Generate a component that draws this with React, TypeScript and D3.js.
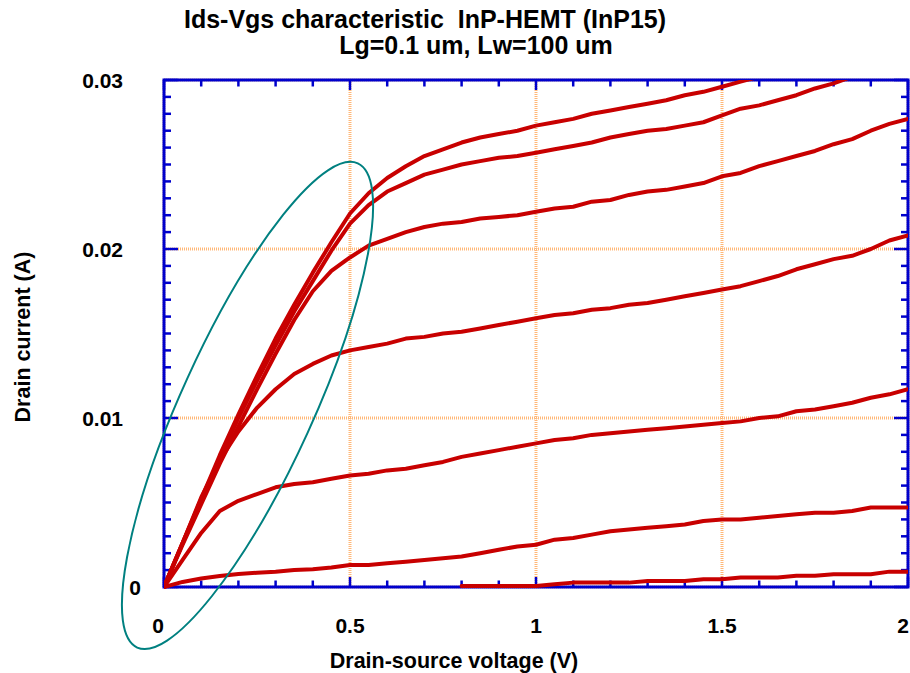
import React from "react";
import * as d3 from "d3";

const TITLE1 = "Ids-Vgs characteristic  InP-HEMT (InP15)";
const TITLE2 = "Lg=0.1 um, Lw=100 um";
const X_LABEL = "Drain-source voltage (V)";
const Y_LABEL = "Drain current (A)";

const X_TICKS = [0, 0.5, 1, 1.5, 2];
const X_TICK_LABELS = ["0", "0.5", "1", "1.5", "2"];
const Y_TICKS = [0, 0.01, 0.02, 0.03];
const Y_TICK_LABELS = ["0", "0.01", "0.02", "0.03"];

// Drain-source voltage samples (V)
const VDS = [
  0, 0.05, 0.1, 0.15, 0.2, 0.25, 0.3, 0.35, 0.4, 0.45, 0.5, 0.55, 0.6, 0.65, 0.7, 0.75, 0.8, 0.85, 0.9, 0.95,
  1.0, 1.05, 1.1, 1.15, 1.2, 1.25, 1.3, 1.35, 1.4, 1.45, 1.5, 1.55, 1.6, 1.65, 1.7, 1.75, 1.8, 1.85, 1.9, 1.95, 2.0,
];

// Drain current (A), one array per gate bias, top to bottom
const ID_1 = [0, 0.0026, 0.0052, 0.0078, 0.0102, 0.0125, 0.0147, 0.0167, 0.0186, 0.0204, 0.0221, 0.0233, 0.0242, 0.0249, 0.0255, 0.0259, 0.0263, 0.0266, 0.0268, 0.027, 0.0273, 0.0275, 0.0277, 0.028, 0.0282, 0.0284, 0.0286, 0.0288, 0.0291, 0.0293, 0.0296, 0.0299, 0.0302];
const ID_2 = [0, 0.0026, 0.0051, 0.0076, 0.01, 0.0122, 0.0143, 0.0163, 0.0181, 0.0199, 0.0215, 0.0226, 0.0234, 0.0239, 0.0244, 0.0247, 0.025, 0.0252, 0.0254, 0.0255, 0.0257, 0.0259, 0.0261, 0.0263, 0.0266, 0.0268, 0.027, 0.0271, 0.0273, 0.0275, 0.0279, 0.0283, 0.0285, 0.0288, 0.0291, 0.0295, 0.0298, 0.0302];
const ID_3 = [0, 0.0025, 0.0049, 0.0073, 0.0095, 0.0117, 0.0138, 0.0158, 0.0175, 0.0187, 0.0195, 0.0202, 0.0206, 0.021, 0.0213, 0.0215, 0.0216, 0.0218, 0.0219, 0.022, 0.0222, 0.0224, 0.0225, 0.0228, 0.0229, 0.0232, 0.0234, 0.0235, 0.0237, 0.0239, 0.0243, 0.0245, 0.0249, 0.0252, 0.0255, 0.0258, 0.0262, 0.0265, 0.027, 0.0274, 0.0277];
const ID_4 = [0, 0.0026, 0.0053, 0.0075, 0.0092, 0.0106, 0.0117, 0.0126, 0.0132, 0.0137, 0.014, 0.0142, 0.0144, 0.0147, 0.0148, 0.015, 0.0151, 0.0153, 0.0155, 0.0157, 0.0159, 0.0161, 0.0162, 0.0164, 0.0165, 0.0167, 0.0168, 0.017, 0.0172, 0.0174, 0.0176, 0.0178, 0.0181, 0.0184, 0.0188, 0.0191, 0.0194, 0.0196, 0.02, 0.0205, 0.0208];
const ID_5 = [0, 0.0016, 0.0032, 0.0045, 0.0051, 0.0055, 0.0059, 0.0061, 0.0062, 0.0064, 0.0066, 0.0067, 0.0069, 0.007, 0.0072, 0.0074, 0.0077, 0.0079, 0.0081, 0.0083, 0.0085, 0.0087, 0.0088, 0.009, 0.0091, 0.0092, 0.0093, 0.0094, 0.0095, 0.0096, 0.0097, 0.0098, 0.01, 0.0101, 0.0104, 0.0105, 0.0107, 0.0109, 0.0112, 0.0114, 0.0117];
const ID_6 = [0, 0.0003, 0.0005, 0.00065, 0.00077, 0.00084, 0.0009, 0.001, 0.00105, 0.00115, 0.0013, 0.0013, 0.0014, 0.0015, 0.0016, 0.0017, 0.0018, 0.002, 0.0022, 0.0024, 0.0025, 0.0028, 0.0029, 0.0031, 0.0033, 0.0034, 0.0035, 0.0036, 0.0037, 0.0039, 0.004, 0.004, 0.0041, 0.0042, 0.0043, 0.0044, 0.0044, 0.0045, 0.0047, 0.0047, 0.0047];
// lowest curve starts at Vds = 0.8 V
const ID_7_START = 16;
const ID_7 = [0, 0, 0, 0, 0, 0.0001, 0.0002, 0.0002, 0.0002, 0.0002, 0.0003, 0.0003, 0.0003, 0.0004, 0.0004, 0.0005, 0.0005, 0.0005, 0.0006, 0.0006, 0.0007, 0.0007, 0.0007, 0.00085, 0.00085];

// annotation ellipse (data-space centre)
const ELLIPSE_CENTER = { v: 0.2245, i: 0.01074 };

const W = 910;
const H = 673;
const M = { left: 164, right: 2, top: 80, bottom: 86 };

export default function App() {
  const x = d3.scaleLinear().domain([0, 2]).range([M.left, W - M.right]);
  const y = d3.scaleLinear().domain([0, 0.03]).range([H - M.bottom, M.top]);
  const x0 = x(0), x1 = x(2), y0 = y(0), y1 = y(0.03);

  const series: [number, number][][] = [
    ID_1.map((c, k) => [VDS[k], c]),
    ID_2.map((c, k) => [VDS[k], c]),
    ID_3.map((c, k) => [VDS[k], c]),
    ID_4.map((c, k) => [VDS[k], c]),
    ID_5.map((c, k) => [VDS[k], c]),
    ID_6.map((c, k) => [VDS[k], c]),
    ID_7.map((c, k) => [VDS[k + ID_7_START], c]),
  ];
  const line = d3
    .line<[number, number]>()
    .x((d) => x(d[0]))
    .y((d) => y(d[1]));

  const xMinor = d3.range(0, 21).map((k) => k / 10);
  const yMinor = d3.range(0, 31).map((k) => k / 1000);
  const isMajorX = (v: number) => Math.abs(v * 2 - Math.round(v * 2)) < 1e-6;
  const isMajorY = (v: number) => Math.abs(v * 100 - Math.round(v * 100)) < 1e-6;

  const font = "'Liberation Sans', Arial, sans-serif";
  const blue = "#0000cc";
  const grid = "#ffb878";

  return (
    <svg
      width={W}
      height={H}
      style={{ position: "absolute", left: 0, top: 0, background: "#fff" }}
      fontFamily={font}
    >
      <defs>
        <clipPath id="plotClip">
          <rect x={x0} y={y1} width={x1 - x0} height={y0 - y1 + 2.5} />
        </clipPath>
      </defs>
      {/* title */}
      <text x={425} y={28} textAnchor="middle" fontSize={25} fontWeight="bold" fill="#000" style={{ whiteSpace: "pre" }}>
        {TITLE1}
      </text>
      <text x={476} y={54} textAnchor="middle" fontSize={25} fontWeight="bold" fill="#000">
        {TITLE2}
      </text>

      {/* grid */}
      <g stroke={grid} strokeWidth={3} strokeDasharray="1,1">
        {X_TICKS.map((v) => (
          <line key={"gx" + v} x1={x(v)} x2={x(v)} y1={y0} y2={y1} />
        ))}
        {Y_TICKS.map((v) => (
          <line key={"gy" + v} x1={x0} x2={x1} y1={y(v)} y2={y(v)} />
        ))}
      </g>

      {/* frame */}
      <rect x={x0} y={y1} width={x1 - x0} height={y0 - y1} fill="none" stroke={blue} strokeWidth={3} />
      {/* ticks */}
      <g stroke={blue} strokeWidth={2.5}>
        {xMinor.map((v) => {
          const len = isMajorX(v) ? 10 : 6.5;
          return (
            <g key={"tx" + v}>
              <line x1={x(v)} x2={x(v)} y1={y0} y2={y0 - len} />
              <line x1={x(v)} x2={x(v)} y1={y1} y2={y1 + len} />
            </g>
          );
        })}
        {yMinor.map((v) => {
          const len = isMajorY(v) ? 14 : 7;
          return (
            <g key={"ty" + v}>
              <line x1={x0} x2={x0 + len} y1={y(v)} y2={y(v)} />
              <line x1={x1} x2={x1 - len} y1={y(v)} y2={y(v)} />
            </g>
          );
        })}
      </g>

      {/* curves */}
      <g clipPath="url(#plotClip)">
        {series.map((s, k) => (
          <path
            key={"s" + k}
            d={line(s) || ""}
            transform={k === series.length - 1 ? "translate(0,-1)" : undefined}
            fill="none"
            stroke="#c80000"
            strokeWidth={4}
            strokeLinejoin="round"
            strokeLinecap="round"
          />
        ))}
      </g>

      {/* annotation ellipse */}
      <ellipse
        cx={x(ELLIPSE_CENTER.v)}
        cy={y(ELLIPSE_CENTER.i)}
        rx={266}
        ry={66}
        transform={`rotate(-65.5 ${x(ELLIPSE_CENTER.v)} ${y(ELLIPSE_CENTER.i)})`}
        fill="none"
        stroke="#008080"
        strokeWidth={2}
      />

      {/* tick labels */}
      <g fontSize={21} fontWeight="bold" fill="#000">
        {X_TICKS.map((v, k) => (
          <text
            key={"lx" + v}
            x={x(v) + (k === 0 ? -6 : k === X_TICKS.length - 1 ? -5 : 0)}
            y={633}
            textAnchor="middle"
          >
            {X_TICK_LABELS[k]}
          </text>
        ))}
        {Y_TICKS.map((v, k) => (
          <text
            key={"ly" + v}
            x={k === 0 ? 141 : 123}
            y={y(v) + 7.5}
            textAnchor="end"
          >
            {Y_TICK_LABELS[k]}
          </text>
        ))}
      </g>

      {/* axis titles */}
      <text x={454} y={668} textAnchor="middle" fontSize={21.5} fontWeight="bold" fill="#000">
        {X_LABEL}
      </text>
      <text
        transform={`translate(30 ${337}) rotate(-90)`}
        textAnchor="middle"
        fontSize={21.5}
        fontWeight="bold"
        fill="#000"
      >
        {Y_LABEL}
      </text>
    </svg>
  );
}
